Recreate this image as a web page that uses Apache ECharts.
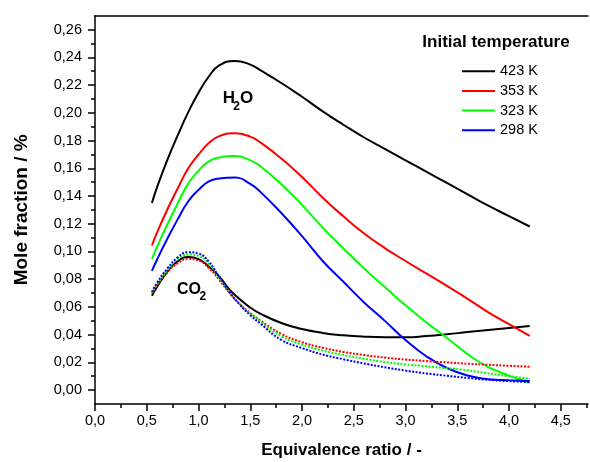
<!DOCTYPE html>
<html>
<head>
<meta charset="utf-8">
<script src="https://cdn.jsdelivr.net/npm/echarts@6/dist/echarts.min.js"></script>
<style>
  html, body { margin: 0; padding: 0; background: #fff; }
  #chart { width: 590px; height: 462px; }
</style>
</head>
<body>
<div id="chart"></div>
<script>
// Equivalence ratio samples for the H2O curves
const phiH2O = [0.55, 0.6, 0.7, 0.8, 0.9, 1.0, 1.1, 1.2, 1.35, 1.5, 1.6, 1.8, 2.0, 2.2, 2.4, 2.6, 2.8, 3.0, 3.2, 3.4, 3.6, 3.8, 4.0, 4.2];

// H2O mole fraction for each initial temperature
const h2o423 = [0.1350, 0.1464, 0.1662, 0.1839, 0.2003, 0.2145, 0.2262, 0.2342, 0.2374, 0.2348, 0.2306, 0.2215, 0.2116, 0.2011, 0.1914, 0.1822, 0.1740, 0.1657, 0.1576, 0.1494, 0.1412, 0.1330, 0.1254, 0.1180];
const h2o353 = [0.1043, 0.1138, 0.1304, 0.1456, 0.1598, 0.1699, 0.1782, 0.1832, 0.1852, 0.1828, 0.1785, 0.1671, 0.1537, 0.1388, 0.1253, 0.1129, 0.1024, 0.0931, 0.0841, 0.0752, 0.0658, 0.0561, 0.0475, 0.0390];
const h2o323 = [0.0947, 0.1034, 0.1196, 0.1347, 0.1489, 0.1582, 0.1650, 0.1678, 0.1688, 0.1657, 0.1613, 0.1485, 0.1336, 0.1172, 0.1022, 0.0877, 0.0743, 0.0611, 0.0489, 0.0376, 0.0259, 0.0165, 0.0104, 0.0053];
const h2o298 = [0.0859, 0.0942, 0.1093, 0.1233, 0.1360, 0.1444, 0.1505, 0.1526, 0.1533, 0.1487, 0.1428, 0.1277, 0.1110, 0.0931, 0.0781, 0.0632, 0.0499, 0.0361, 0.0244, 0.0159, 0.0105, 0.0078, 0.0071, 0.0065];

// Equivalence ratio samples for the CO2 curves
const phiCO2 = [0.55, 0.6, 0.7, 0.8, 0.9, 1.0, 1.1, 1.2, 1.3, 1.4, 1.5, 1.6, 1.8, 2.0, 2.2, 2.4, 2.6, 2.8, 3.0, 3.2, 3.4, 3.6, 3.8, 4.0, 4.2];

// CO2 mole fraction for each initial temperature
const co2423 = [0.0680, 0.0745, 0.0855, 0.0930, 0.0960, 0.0945, 0.0890, 0.0820, 0.0725, 0.0655, 0.0595, 0.0550, 0.0484, 0.0440, 0.0412, 0.0395, 0.0385, 0.0381, 0.0381, 0.0389, 0.0402, 0.0418, 0.0433, 0.0447, 0.0462];
const co2353 = [0.0697, 0.0755, 0.0850, 0.0915, 0.0945, 0.0935, 0.0880, 0.0795, 0.0700, 0.0620, 0.0555, 0.0500, 0.0405, 0.0345, 0.0305, 0.0275, 0.0252, 0.0234, 0.0220, 0.0209, 0.0199, 0.0190, 0.0182, 0.0175, 0.0168];
const co2323 = [0.0703, 0.0765, 0.0865, 0.0945, 0.0978, 0.0968, 0.0910, 0.0810, 0.0705, 0.0620, 0.0550, 0.0492, 0.0388, 0.0328, 0.0285, 0.0253, 0.0226, 0.0202, 0.0185, 0.0171, 0.0158, 0.0142, 0.0120, 0.0100, 0.0082];
const co2298 = [0.0709, 0.0775, 0.0878, 0.0958, 0.0995, 0.0985, 0.0925, 0.0815, 0.0705, 0.0615, 0.0540, 0.0478, 0.0362, 0.0303, 0.0256, 0.0222, 0.0192, 0.0164, 0.0140, 0.0120, 0.0103, 0.0087, 0.0074, 0.0064, 0.0058];

const temperatures = ['423 K', '353 K', '323 K', '298 K'];
const colors = ['#000000', '#ff0000', '#00ff00', '#0000ff'];

// Axis ticks
const xMajor = [0, 0.5, 1.0, 1.5, 2.0, 2.5, 3.0, 3.5, 4.0, 4.5];
const xMinor = [0.25, 0.75, 1.25, 1.75, 2.25, 2.75, 3.25, 3.75, 4.25, 4.75];
const yMajor = [0, 0.02, 0.04, 0.06, 0.08, 0.10, 0.12, 0.14, 0.16, 0.18, 0.20, 0.22, 0.24, 0.26];
const yMinor = [0.01, 0.03, 0.05, 0.07, 0.09, 0.11, 0.13, 0.15, 0.17, 0.19, 0.21, 0.23, 0.25];

const FONT = 'Liberation Sans';
const axisLineStyle = { color: '#000', width: 1.5 };
const comma = (d) => (v) => v.toFixed(d).replace('.', ',');

function pairs(xs, ys) { return xs.map((x, i) => [x, ys[i]]); }

const h2oSets = [h2o423, h2o353, h2o323, h2o298];
const co2Sets = [co2423, co2353, co2323, co2298];

const series = [];
h2oSets.forEach((ys, i) => series.push({
  name: temperatures[i], type: 'line', xAxisIndex: 0, yAxisIndex: 0,
  data: pairs(phiH2O, ys), showSymbol: false, symbol: 'none', smooth: 0.5,
  lineStyle: { color: colors[i], width: 2 }, itemStyle: { color: colors[i] },
  silent: true, animation: false
}));
co2Sets.forEach((ys, i) => series.push({
  name: temperatures[i], type: 'line', xAxisIndex: 0, yAxisIndex: 0,
  data: pairs(phiCO2, ys), showSymbol: false, symbol: 'none', smooth: 0.5,
  lineStyle: { color: colors[i], width: 2, type: i === 0 ? 'solid' : [2, 1.5] },
  itemStyle: { color: colors[i] }, z: i === 0 ? 2 : 3,
  silent: true, animation: false
}));

const chart = echarts.init(document.getElementById('chart'), null, { renderer: 'canvas' });
chart.setOption({
  animation: false,
  backgroundColor: '#fff',
  grid: { left: 95, right: 2, top: 15.8, bottom: 58.1, containLabel: false, outerBoundsMode: 'none' },
  xAxis: [
    {
      type: 'value', position: 'bottom', min: 0, max: 4.763,
      axisLine: { onZero: false, lineStyle: axisLineStyle },
      axisTick: { show: true, length: 7, customValues: xMajor, lineStyle: axisLineStyle },
      axisLabel: { customValues: xMajor, formatter: comma(1), margin: 10, color: '#000', fontFamily: FONT, fontSize: 14.5 },
      splitLine: { show: false },
      name: 'Equivalence ratio / -', nameLocation: 'middle', nameGap: 38,
      nameTextStyle: { color: '#000', fontFamily: FONT, fontSize: 17, fontWeight: 'bold' }
    },
    {
      type: 'value', position: 'bottom', min: 0, max: 4.763,
      axisLine: { show: false, onZero: false },
      axisTick: { show: true, length: 4, customValues: xMinor, lineStyle: axisLineStyle },
      axisLabel: { show: false }, splitLine: { show: false }
    },
    {
      type: 'value', position: 'top', min: 0, max: 4.763,
      axisLine: { show: true, onZero: false, lineStyle: axisLineStyle },
      axisTick: { show: false }, axisLabel: { show: false }, splitLine: { show: false }
    }
  ],
  yAxis: [
    {
      type: 'value', position: 'left', min: -0.01, max: 0.27,
      axisLine: { onZero: false, lineStyle: axisLineStyle },
      axisTick: { show: true, length: 7, customValues: yMajor, lineStyle: axisLineStyle },
      axisLabel: { customValues: yMajor, formatter: comma(2), margin: 13, color: '#000', fontFamily: FONT, fontSize: 14.5 },
      splitLine: { show: false },
      name: 'Mole fraction / %', nameLocation: 'middle', nameGap: 64,
      nameTextStyle: { color: '#000', fontFamily: FONT, fontSize: 19, fontWeight: 'bold' }
    },
    {
      type: 'value', position: 'left', min: -0.01, max: 0.27,
      axisLine: { show: false, onZero: false },
      axisTick: { show: true, length: 4, customValues: yMinor, lineStyle: axisLineStyle },
      axisLabel: { show: false }, splitLine: { show: false }
    }
  ],
  legend: {
    data: temperatures, orient: 'vertical', left: 462, top: 63.7, padding: 0,
    icon: 'rect', itemWidth: 33, itemHeight: 2, itemGap: 4.7, selectedMode: false,
    textStyle: { color: '#000', fontFamily: FONT, fontSize: 14.5, lineHeight: 14 }
  },
  graphic: [
    { type: 'text', x: 496, y: 42, silent: true,
      style: { text: 'Initial temperature', align: 'center', verticalAlign: 'middle', fill: '#000', font: 'bold 17px "' + FONT + '"' } },
    { type: 'text', x: 222.7, y: 98.5, silent: true,
      style: { text: 'H', align: 'left', verticalAlign: 'middle', fill: '#000', font: 'bold 17px "' + FONT + '"' } },
    { type: 'text', x: 233.3, y: 106.7, silent: true,
      style: { text: '2', align: 'left', verticalAlign: 'middle', fill: '#000', font: 'bold 12px "' + FONT + '"' } },
    { type: 'text', x: 240, y: 98.5, silent: true,
      style: { text: 'O', align: 'left', verticalAlign: 'middle', fill: '#000', font: 'bold 17px "' + FONT + '"' } },
    { type: 'text', x: 177, y: 289.5, silent: true,
      style: { text: 'CO', align: 'left', verticalAlign: 'middle', fill: '#000', font: 'bold 16px "' + FONT + '"' } },
    { type: 'text', x: 199.5, y: 297, silent: true,
      style: { text: '2', align: 'left', verticalAlign: 'middle', fill: '#000', font: 'bold 12px "' + FONT + '"' } }
  ],
  series: series
});
</script>
</body>
</html>
